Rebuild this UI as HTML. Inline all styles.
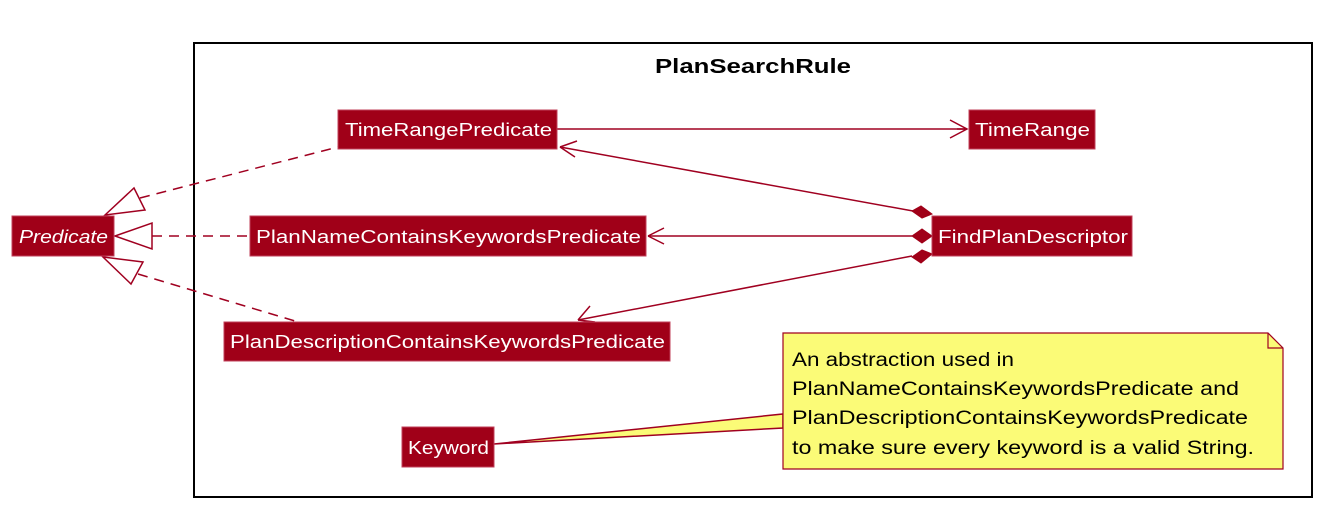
<!DOCTYPE html>
<html><head><meta charset="utf-8"><style>
html,body{margin:0;padding:0;background:#fff;}
svg{display:block;font-family:"Liberation Sans",sans-serif;}
</style></head><body>
<svg width="1330" height="516" viewBox="0 0 1330 516" xmlns="http://www.w3.org/2000/svg">
<rect x="194" y="43" width="1118" height="454" fill="none" stroke="#000" stroke-width="2"/>
<text x="655" y="73" font-size="20" font-weight="bold" textLength="196" lengthAdjust="spacingAndGlyphs">PlanSearchRule</text>

<g fill="none" stroke="#A00020" stroke-width="1.5">
<path d="M140,198 L338,147" stroke-dasharray="10,7"/>
<polygon points="105,215 134,188 145,210" fill="#fff"/>
<path d="M152,236 L250,236" stroke-dasharray="10,7"/>
<polygon points="115,236 152,223 152,249" fill="#fff"/>
<path d="M138,274 L295,321" stroke-dasharray="10,7"/>
<polygon points="103,257 143,262 131,284" fill="#fff"/>
<path d="M557,129 L967,129"/>
<path d="M950,120 L967,129 L950,138 M957,129 L967,129"/>
<path d="M913,211 L560,147"/>
<path d="M560,147 L575,157 M560,147 L577,141"/>
<path d="M912,236 L648,236"/>
<path d="M648,236 L664,228 M648,236 L664,244"/>
<path d="M912,256 L578,320"/>
<path d="M578,320 L590,306 M578,320 L595,322"/>
<polygon points="494,444 783,414 783,428" fill="#FBFB77"/>
</g>
<g fill="#A00018" stroke="#A00018">
<polygon points="932,214 921,206 912,211 922,218"/>
<polygon points="932,236 922,229 912,236 922,243"/>
<polygon points="932,254 922,250 912,257 921,263"/>
</g>

<g fill="#A00018" stroke="#c0405a" stroke-width="1">
<rect x="12" y="216" width="102" height="40"/>
<rect x="338" y="110" width="219" height="39"/>
<rect x="969" y="110" width="126" height="39"/>
<rect x="250" y="216" width="396" height="40"/>
<rect x="932" y="216" width="200" height="40"/>
<rect x="224" y="322" width="446" height="39"/>
<rect x="402" y="427" width="92" height="40"/>
</g>
<g fill="#fff" font-size="18">
<text x="19" y="243" font-style="italic" textLength="89" lengthAdjust="spacingAndGlyphs">Predicate</text>
<text x="345" y="136" textLength="207" lengthAdjust="spacingAndGlyphs">TimeRangePredicate</text>
<text x="975" y="136" textLength="115" lengthAdjust="spacingAndGlyphs">TimeRange</text>
<text x="256" y="243" textLength="385" lengthAdjust="spacingAndGlyphs">PlanNameContainsKeywordsPredicate</text>
<text x="938" y="243" textLength="190" lengthAdjust="spacingAndGlyphs">FindPlanDescriptor</text>
<text x="230" y="348" textLength="435" lengthAdjust="spacingAndGlyphs">PlanDescriptionContainsKeywordsPredicate</text>
<text x="408" y="454" textLength="81" lengthAdjust="spacingAndGlyphs">Keyword</text>
</g>

<polygon points="783,333 1268,333 1283,348 1283,469 783,469" fill="#FBFB77" stroke="#A00020" stroke-width="1.2"/>
<path d="M1268,333 L1268,348 L1283,348" fill="none" stroke="#A00020" stroke-width="1.2"/>
<g font-size="19" fill="#000">
<text x="792" y="366" textLength="222" lengthAdjust="spacingAndGlyphs">An abstraction used in</text>
<text x="792" y="395" textLength="447" lengthAdjust="spacingAndGlyphs">PlanNameContainsKeywordsPredicate and</text>
<text x="792" y="424" textLength="456" lengthAdjust="spacingAndGlyphs">PlanDescriptionContainsKeywordsPredicate</text>
<text x="792" y="454" textLength="462" lengthAdjust="spacingAndGlyphs">to make sure every keyword is a valid String.</text>
</g>
</svg>
</body></html>
